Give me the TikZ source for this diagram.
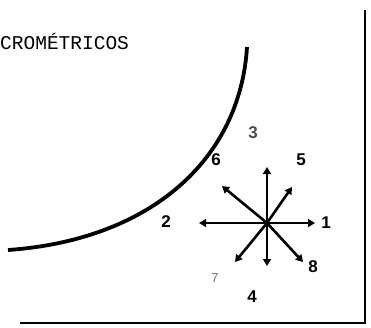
\documentclass[tikz,border=0pt]{standalone}
\usepackage{fontspec}
\setmonofont{Liberation Mono}
\setsansfont{Liberation Sans}
\usetikzlibrary{arrows.meta}

\begin{document}
\begin{tikzpicture}[
  x=1pt, y=-1pt,
  >={Triangle[length=7pt, width=8pt]},
  dir/.style={->, line width=2.6pt},
  num/.style={font=\sffamily\bfseries\fontsize{17}{17}\selectfont, inner sep=0pt},
  frame/.style={line width=2.6pt},
]
\useasboundingbox (0,0) rectangle (371,327);

% --- title ---
\node[anchor=west, inner sep=0pt, font=\ttfamily\fontsize{19.5}{20}\selectfont]
  (title) at (0,41) {CROMÉTRICOS};

% --- frame ---
\draw[frame] (365,10) -- (365,323) -- (20,323);

% --- curve ---
\draw[line width=3.8pt] (8,250) .. controls (150,240) and (240,160) .. (247,47);

% --- star of directions ---
\coordinate (c) at (267,223);
\coordinate (d1) at (315,223);
\coordinate (d2) at (199,223);
\coordinate (d3) at (267,167);
\coordinate (d4) at (267,266);
\coordinate (d5) at (292,187);
\coordinate (d6) at (222,186);
\coordinate (d7) at (235,262);
\coordinate (d8) at (303,262);
\foreach \i in {1,...,8}
  \draw[dir] (c) -- (d\i);

% --- direction numbers ---
\node[num] (n1) at (326,223) {1};
\node[num] (n2) at (166,222) {2};
\node[num, text=black!70] (n3) at (253,133) {3};
\node[num] (n4) at (252,297) {4};
\node[num] (n5) at (301,160) {5};
\node[num] (n6) at (216,160) {6};
\node[num, text=black!55, font=\sffamily\fontsize{13}{13}\selectfont] (n7) at (215,278) {7};
\node[num] (n8) at (313,267) {8};

\end{tikzpicture}
\end{document}
